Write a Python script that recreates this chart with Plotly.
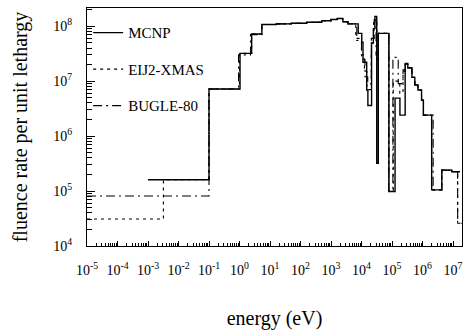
import plotly.graph_objects as go

# ---- data (energy bin lower edges in eV, fluence rate per unit lethargy) ----
mcnp_E = [1e-3, 0.1, 1.04, 2.5, 5.4, 16, 50, 160, 500, 1.0e3, 1.6e3, 2.45e3, 3.6e3,
          7.8e3, 1.02e4, 1.12e4, 1.48e4, 1.62e4, 2.14e4, 2.45e4, 2.75e4, 3.16e4,
          3.55e4, 7.9e4, 1.26e5, 1.82e5, 2.7e5, 3.3e5, 4.5e5, 5.6e5, 7.1e5, 9.3e5,
          1.07e6, 2.0e6, 4.3e6, 9.1e6]
mcnp_F = [1.6e5, 7.2e6, 3.2e7, 7.2e7, 1.07e8, 1.10e8, 1.13e8, 1.18e8, 1.25e8, 1.32e8,
          1.38e8, 1.2e8, 1.1e8, 7.4e7, 5.1e7, 2.2e7, 6.9e6, 3.6e6, 4.9e7, 9e7, 1.5e8,
          3.2e5, 7.4e7, 9.8e4, 4.9e6, 2.4e6, 2.1e7, 1.74e7, 1.17e7, 8.5e6, 6.9e6,
          4.5e6, 2.4e6, 1.05e5, 2.4e5, 2.25e5]
mcnp_end = 1.7e7

eij2_E = [1e-5, 3.2e-3, 0.1, 1.0, 2.5, 5.4, 16, 50, 160, 500, 1.0e3, 1.6e3, 2.45e3,
          3.6e3, 6.5e3, 1.0e4, 1.25e4, 1.5e4, 2.1e4, 2.5e4, 3.2e4, 3.6e4, 7.9e4,
          1.1e5, 1.8e5, 2.3e5, 2.7e5, 3.3e5, 4.5e5, 5.6e5, 7.1e5, 9.3e5, 1.07e6,
          2.0e6, 4.3e6, 9.1e6, 1.42e7]
eij2_F = [3.1e4, 1.6e5, 7.2e6, 3.2e7, 7.2e7, 1.07e8, 1.10e8, 1.13e8, 1.18e8, 1.25e8,
          1.32e8, 1.38e8, 1.2e8, 1.1e8, 6e7, 3e7, 1.5e7, 7e6, 5e7, 1.2e8, 2.5e7,
          7.4e7, 9.8e4, 1e7, 6e6, 1.5e7, 2e7, 1.74e7, 1.17e7, 8.5e6, 6.9e6, 4.5e6,
          2.4e6, 1.05e5, 2.4e5, 2.25e5, 2.6e4]
eij2_end = 2e7

bugle_E = [1e-5, 0.1, 0.93, 2.3, 5.4, 16, 50, 160, 500, 1.0e3, 1.6e3, 2.45e3, 3.6e3,
           7.0e3, 1.0e4, 1.3e4, 1.6e4, 2.1e4, 2.6e4, 3.0e4, 3.6e4, 7.9e4, 1.07e5,
           1.6e5, 2.3e5, 2.7e5, 3.3e5, 4.5e5, 5.6e5, 7.1e5, 9.3e5, 1.07e6, 2.23e6,
           4.3e6, 9.1e6, 1.42e7]
bugle_F = [8.1e4, 7.2e6, 3.0e7, 7.0e7, 1.07e8, 1.10e8, 1.13e8, 1.18e8, 1.25e8, 1.32e8,
           1.38e8, 1.2e8, 1.1e8, 5.5e7, 2.5e7, 1.2e7, 9e6, 6e7, 1.3e8, 3e7, 7.4e7,
           9.8e4, 2.7e7, 9e6, 1.6e7, 2e7, 1.74e7, 1.17e7, 8.5e6, 6.9e6, 4.5e6, 2.4e6,
           1.05e5, 2.4e5, 2.25e5, 2.6e4]
bugle_end = 2e7

x_tickvals = [1e-5, 1e-4, 1e-3, 1e-2, 1e-1, 1e0, 1e1, 1e2, 1e3, 1e4, 1e5, 1e6, 1e7]
x_ticktext = ["10<sup>-5</sup>", "10<sup>-4</sup>", "10<sup>-3</sup>", "10<sup>-2</sup>",
              "10<sup>-1</sup>", "10<sup>0</sup>", "10<sup>1</sup>", "10<sup>2</sup>",
              "10<sup>3</sup>", "10<sup>4</sup>", "10<sup>5</sup>", "10<sup>6</sup>",
              "10<sup>7</sup>"]
y_tickvals = [1e4, 1e5, 1e6, 1e7, 1e8]
y_ticktext = ["10<sup>4</sup>", "10<sup>5</sup>", "10<sup>6</sup>", "10<sup>7</sup>",
              "10<sup>8</sup>"]

FONT = "Liberation Serif"


def step(E, F, end):
    return list(E) + [end], list(F) + [F[-1]]


fig = go.Figure()
for name, E, F, end, dash, w in [
    ("MCNP", mcnp_E, mcnp_F, mcnp_end, "solid", 1.4),
    ("EIJ2-XMAS", eij2_E, eij2_F, eij2_end, "3px,4px", 1.1),
    ("BUGLE-80", bugle_E, bugle_F, bugle_end, "9px,4px,2px,4px", 1.1),
]:
    xs, ys = step(E, F, end)
    fig.add_trace(go.Scatter(x=xs, y=ys, mode="lines", name=name, legendgroup=name,
                             line=dict(color="black", width=w, dash=dash, shape="hv")))

axis_common = dict(type="log", showline=True, linecolor="black", linewidth=1,
                   mirror=True, showgrid=False, zeroline=False, ticks="inside",
                   tickcolor="black", tickmode="array",
                   tickfont=dict(family=FONT, size=14, color="black"))

fig.update_xaxes(**axis_common, range=[-5, 7.295], tickvals=x_tickvals,
                 ticktext=x_ticktext, ticklen=5, ticklabelstandoff=11,
                 minor=dict(ticks="inside", ticklen=3, dtick="D1", tickcolor="black",
                            showgrid=False),
                 title=dict(text="energy (eV)", standoff=34,
                            font=dict(family=FONT, size=20, color="black")))
fig.update_yaxes(**axis_common, range=[4, 8.33], tickvals=y_tickvals,
                 ticktext=y_ticktext, ticklen=8, ticklabelstandoff=11,
                 minor=dict(ticks="inside", ticklen=5, dtick="D1", tickcolor="black",
                            showgrid=False),
                 title=dict(text="fluence rate per unit lethargy", standoff=20,
                            font=dict(family=FONT, size=20, color="black")))

fig.update_layout(
    width=464, height=331,
    margin=dict(l=87, r=2, t=8, b=85),
    paper_bgcolor="white", plot_bgcolor="white",
    showlegend=True,
    legend=dict(x=0.003, y=0.965, xanchor="left", yanchor="top",
                bgcolor="rgba(0,0,0,0)", borderwidth=0,
                traceorder="grouped", tracegroupgap=14,
                font=dict(family=FONT, size=15, color="black")),
)

fig.write_html("out.html")
